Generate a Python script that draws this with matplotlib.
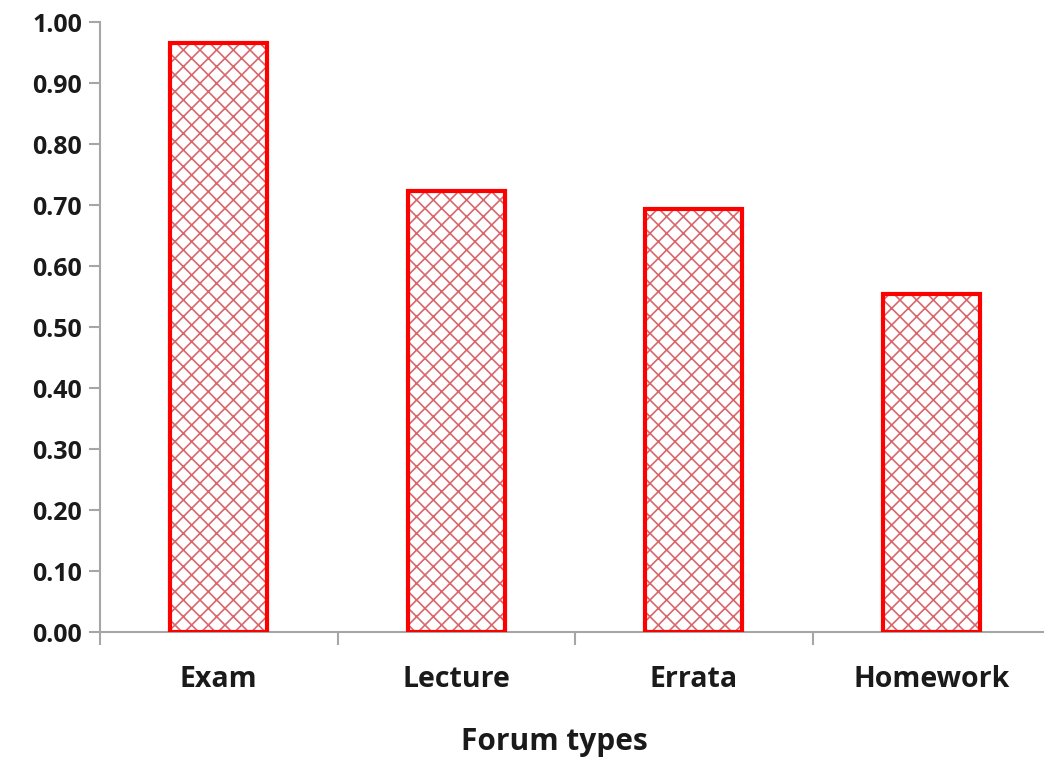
import matplotlib

matplotlib.use("Agg")

import matplotlib.pyplot as plt
from matplotlib.ticker import FixedLocator, MultipleLocator, NullFormatter

categories = ["Exam", "Lecture", "Errata", "Homework"]
values = [0.966, 0.723, 0.693, 0.554]

EDGE = "#ff0000"
HATCH = "#d9686c"
AXIS = "#a6a6a6"
TEXT = "#1a1a1a"

plt.rcParams["font.family"] = ["Open Sans", "DejaVu Sans"]
plt.rcParams["hatch.linewidth"] = 1.2

fig = plt.figure(figsize=(10.44, 7.58), dpi=100)
ax = fig.add_axes([0.0958, 0.1662, 0.91, 0.8047])

x = list(range(len(categories)))
ax.bar(x, values, width=0.41, color="white", edgecolor=HATCH, hatch="xx", linewidth=0, zorder=2)
ax.bar(x, values, width=0.41, fill=False, edgecolor=EDGE, linewidth=3, zorder=3)

ax.set_xlim(-0.5, 3.5)
ax.set_ylim(0, 1.0)
ax.yaxis.set_major_locator(MultipleLocator(0.1))
ax.yaxis.set_major_formatter(plt.FuncFormatter(lambda v, _: f"{v:.2f}"))

ax.set_xticks(x)
ax.set_xticklabels(categories)
ax.xaxis.set_minor_locator(FixedLocator([-0.5, 0.5, 1.5, 2.5, 3.5]))
ax.xaxis.set_minor_formatter(NullFormatter())
ax.tick_params(axis="x", which="major", length=0, pad=24, labelsize=20.5, labelcolor=TEXT)
ax.tick_params(axis="x", which="minor", length=9, width=1.5, color=AXIS, direction="out")
ax.tick_params(axis="y", length=8, width=1.5, color=AXIS, direction="out", labelsize=18, labelcolor=TEXT, pad=5)
for lab in ax.get_xticklabels() + ax.get_yticklabels():
    lab.set_fontweight("bold")

ax.set_xlabel("Forum types", fontsize=21.5, fontweight="bold", color=TEXT)
ax.xaxis.set_label_coords(0.478, -0.156)

for side in ["top", "right"]:
    ax.spines[side].set_visible(False)
for side in ["left", "bottom"]:
    ax.spines[side].set_color(AXIS)
    ax.spines[side].set_linewidth(1.5)

fig.savefig("out.png", dpi=100)
